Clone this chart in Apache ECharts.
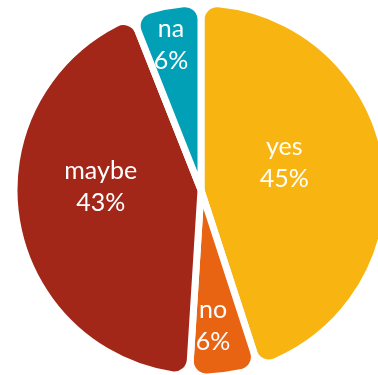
<!DOCTYPE html>
<html>
<head>
<meta charset="utf-8">
<script src="https://cdn.jsdelivr.net/npm/echarts@6/dist/echarts.min.js"></script>
<style>
  html, body { margin: 0; padding: 0; background: #ffffff; }
  #chart { width: 378px; height: 375px; }
</style>
</head>
<body>
<div id="chart"></div>
<script>
// Survey answers, clockwise from 12 o'clock
const categories = ['yes', 'no', 'maybe', 'na'];
const shares = [45, 6, 43, 6];

// Slice colours per answer
const sliceColors = {
  yes: '#F8B511',
  no: '#E86413',
  maybe: '#A22718',
  na: '#01A0B6'
};

// Nudges (px) applied to each label from its default in-slice spot
const labelNudge = {
  yes: [-12, -12],
  no: [0, 40],
  maybe: [-5, -18],
  na: [-12, -50]
};

const chart = echarts.init(document.getElementById('chart'), null, { renderer: 'canvas' });

chart.setOption({
  backgroundColor: '#ffffff',
  animation: false,
  series: [{
    type: 'pie',
    center: [201, 190],
    radius: [0, 187],
    startAngle: 90,
    clockwise: true,
    avoidLabelOverlap: false,
    itemStyle: {
      borderColor: '#ffffff',
      borderWidth: 7,
      borderRadius: 16
    },
    label: {
      show: true,
      position: 'inside',
      color: '#ffffff',
      fontFamily: 'Lato, "Open Sans", sans-serif',
      fontSize: 25,
      lineHeight: 32,
      formatter: p => p.name + '\n' + p.value + '%'
    },
    labelLine: { show: false },
    labelLayout: params => {
      const n = labelNudge[categories[params.dataIndex]];
      return { dx: n[0], dy: n[1] };
    },
    data: categories.map((c, i) => ({
      name: c,
      value: shares[i],
      itemStyle: { color: sliceColors[c] }
    }))
  }]
});
</script>
</body>
</html>
